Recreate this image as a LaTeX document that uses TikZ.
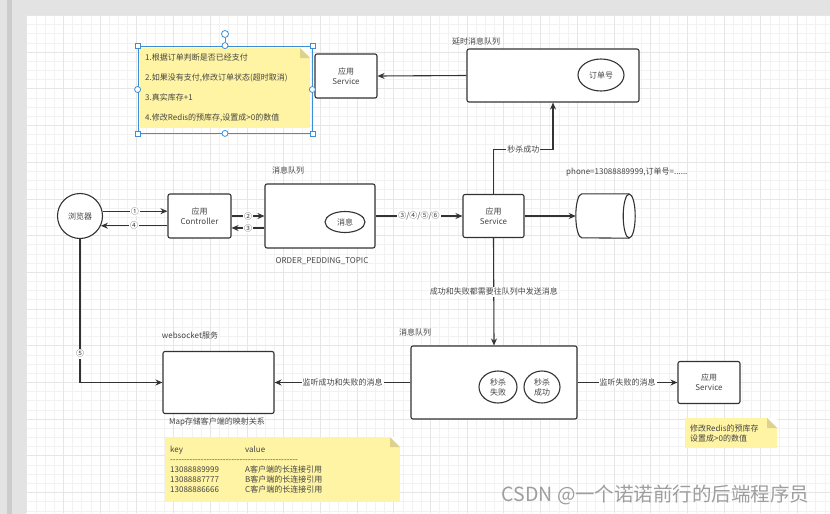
\documentclass[tikz,border=0pt]{standalone}
\usepackage{fontspec}
\setmainfont{Noto Sans CJK SC}
\usetikzlibrary{arrows.meta}
\usetikzlibrary{shapes.geometric}
\usetikzlibrary{calc}

\definecolor{ink}{HTML}{333333}
\definecolor{txt}{HTML}{444444}
\definecolor{notefill}{HTML}{FFF4A3}
\definecolor{notefold}{HTML}{DCD28D}
\definecolor{selblue}{HTML}{3C8FD6}
\definecolor{gridminor}{HTML}{F2F2F2}
\definecolor{gridmajor}{HTML}{E6E6E6}
\definecolor{panel}{HTML}{E3E3E3}

\begin{document}
\begin{tikzpicture}[x=1pt, y=-1pt, font=\fontsize{8}{10}\selectfont, text=txt,
	box/.style={rectangle, draw=ink, line width=1.1pt, rounded corners=2pt, fill=white, align=center, inner sep=1pt},
	bubble/.style={ellipse, draw=ink, line width=1.1pt, fill=white, align=center, inner sep=0pt},
	memo/.style={rectangle, fill=notefill, align=left, anchor=north west, inner ysep=0pt, inner xsep=5pt,
		path picture={
			\fill[white] ([xshift=-10pt]path picture bounding box.north east) -- (path picture bounding box.north east) -- ([yshift=-10pt]path picture bounding box.north east) -- cycle;
			\fill[notefold] ([xshift=-10pt]path picture bounding box.north east) -- ([xshift=-10pt,yshift=-10pt]path picture bounding box.north east) -- ([yshift=-10pt]path picture bounding box.north east) -- cycle;
		}},
	tag/.style={inner sep=1pt},
	lbl/.style={fill=white, inner sep=1pt},
	arr/.style={draw=ink, line width=1.1pt, -{Stealth[length=7pt,width=6pt]}},
	handle/.style={draw=selblue, fill=white, line width=0.8pt, inner sep=0pt}]
	\useasboundingbox (0,0) rectangle (830,514);

	% canvas
	\fill[panel] (0,0) rectangle (830,514);
	\fill[black!20] (7,0) rectangle (12,514);
	\fill[white] (26,15) rectangle (830,514);
	\begin{scope}[shift={(26.6,15.3)}]
		\draw[gridminor, line width=0.5pt, step=9.175pt] (0,0) grid (803,498);
		\draw[gridmajor, line width=0.5pt, step=36.7pt] (0,0) grid (803,498);
	\end{scope}

	% nodes
	\node[box, circle, minimum size=45] (browser) at (80,216) {浏览器};
	\node[box, minimum width=63, minimum height=44] (ctrl) at (199.5,216) {应用\\Controller};
	\node[box, minimum width=110, minimum height=64] (mq) at (320,216) {};
	\node[tag] (mqcap) at (288,170) {消息队列};
	\node[bubble, minimum width=40, minimum height=21] (msg) at (345,222) {消息};
	\node[tag] (topic) at (322,261) {ORDER\_PEDDING\_TOPIC};
	\node[box, minimum width=61, minimum height=43] (svc) at (493.5,216) {应用\\Service};
	\node[inner sep=0pt, minimum width=59, minimum height=44] (redis) at (605.5,216) {};
	\filldraw[draw=ink, fill=white, line width=1.1pt] ([xshift=-6pt]redis.north east) -- ([xshift=6pt]redis.north west)
		arc[start angle=90, end angle=270, x radius=6pt, y radius=22pt] -- ([xshift=-6pt]redis.south east);
	\filldraw[draw=ink, fill=white, line width=1.1pt] ([xshift=-6pt]redis.east) ellipse[x radius=6pt, y radius=22pt];
	\node[tag, anchor=west] (phone) at (565,172) {phone=13088889999,订单号=......};

	\node[box, minimum width=172, minimum height=53] (dq) at (553,75.5) {};
	\node[tag] (dqcap) at (476,41) {延时消息队列};
	\node[bubble, minimum width=46, minimum height=32] (orderno) at (601,75) {订单号};
	\node[box, minimum width=62, minimum height=44] (svctop) at (346,76) {应用\\Service};
	\node[memo, minimum width=170, minimum height=80, text width=160] (todo) at (140,48)
		{1.根据订单判断是否已经支付\\[10pt]2.如果没有支付,修改订单状态(超时取消)\\[10pt]3.真实库存+1\\[10pt]4.修改Redis的预库存,设置成>0的数值};

	% selection
	\node[draw=selblue, line width=0.8pt, inner sep=0pt, minimum width=174, minimum height=87] (sel) at (225,89.5) {};
	\foreach \a [count=\i] in {north west, north east, south west, south east}
		\node[handle, rectangle, minimum size=5] (hs\i) at (sel.\a) {};
	\foreach \a [count=\i] in {north, south, east, west}
		\node[handle, circle, minimum size=6] (hc\i) at (sel.\a) {};
	\node[handle, circle, minimum size=7] (rot) at (225,34) {};
	\draw[selblue, line width=0.8pt] (rot) -- (hc1);

	\node[box, minimum width=166, minimum height=73] (bq) at (494,382.5) {};
	\node[tag] (bqcap) at (415,332) {消息队列};
	\node[bubble, minimum width=38, minimum height=32] (fail) at (498,387) {秒杀\\失败};
	\node[bubble, minimum width=36, minimum height=32] (succ) at (542,387) {秒杀\\成功};
	\node[box, minimum width=62, minimum height=42] (svcbr) at (709,382.5) {应用\\Service};
	\node[memo, minimum width=92, minimum height=30, text width=82] (redisnote) at (685,418)
		{修改Redis的预库存\\设置成>0的数值};

	\node[box, minimum width=111, minimum height=62] (ws) at (218.5,382.5) {};
	\node[tag] (wscap) at (190,335) {websocket服务};
	\node[tag] (mapcap) at (217,422) {Map存储客户端的映射关系};
	\node[memo, minimum width=235, minimum height=65, text width=225] (keymap) at (165,437)
		{\makebox[75pt][l]{key}value\\
		-{}-{}-{}-{}-{}-{}-{}-{}-{}-{}-{}-{}-{}-{}-{}-{}-{}-{}-{}-{}-{}-{}-{}-{}-{}-{}-{}-{}-{}-{}-{}-{}-{}-{}-{}-{}-{}-{}-{}-{}-{}-{}-{}-{}-{}-\\
		\makebox[75pt][l]{13088889999}A客户端的长连接引用\\
		\makebox[75pt][l]{13088887777}B客户端的长连接引用\\
		\makebox[75pt][l]{13088886666}C客户端的长连接引用};

	\node[anchor=east, font=\fontsize{19.5}{20}\selectfont, text=black!38] (mark) at (813,495) {CSDN @一个诺诺前行的后端程序员};

	% edges
	\draw[arr] (browser.12) -- (browser.12 -| ctrl.west) node[midway, lbl] {①};
	\draw[arr] (browser.-25 -| ctrl.west) -- (browser.-25) node[midway, lbl] {④};
	\draw[arr] (ctrl.east) -- (mq.west) node[midway, lbl] {②};
	\draw[arr] ([yshift=-12pt]mq.west) -- ([yshift=-12pt]mq.west -| ctrl.east) node[midway, lbl] {③};
	\draw[arr] (mq.east) -- (svc.west) node[midway, lbl] {③/④/⑤/⑥};
	\draw[arr] (svc.east) -- (redis.west);
	\draw[arr] (svc.north) |- ($(dq.south)+(0,47)$) node[pos=0.75, lbl] {秒杀成功} -- (dq.south);
	\draw[arr] (dq.west) -- (svctop.east);
	\draw[arr] (svc.south) -- (bq.north) node[midway, lbl] {成功和失败都需要往队列中发送消息};
	\draw[arr] (bq.east) -- (svcbr.west) node[midway, lbl] {监听失败的消息};
	\draw[arr] (bq.west) -- (ws.east) node[midway, lbl] {监听成功和失败的消息};
	\draw[arr] (browser.south) |- (ws.west) node[pos=0.4, lbl] {⑤};
\end{tikzpicture}
\end{document}
